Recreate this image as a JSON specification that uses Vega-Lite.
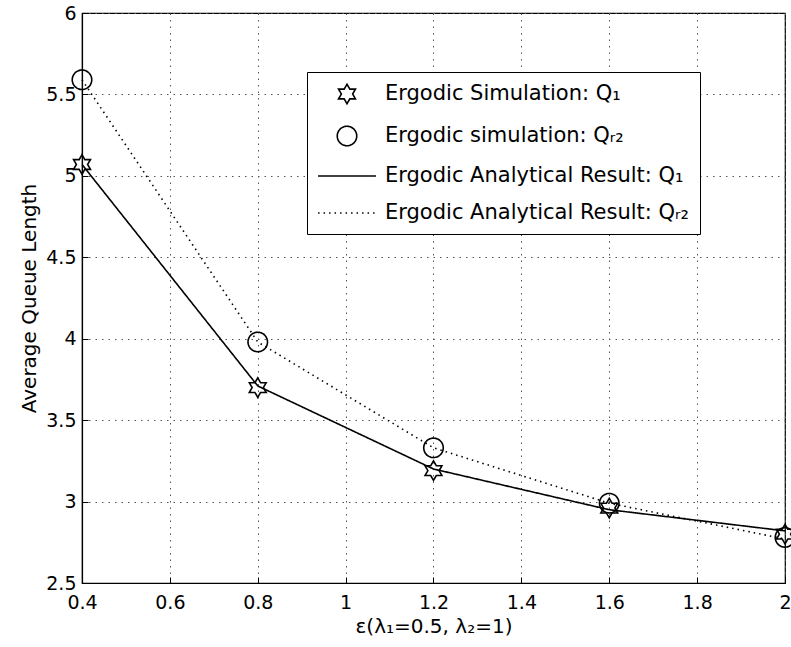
{
  "$schema": "https://vega.github.io/schema/vega-lite/v6.json",
  "width": 703,
  "height": 570,
  "autosize": {"type": "none"},
  "padding": {"left": 82, "top": 13, "right": 6, "bottom": 64},
  "background": "white",
  "config": {
    "font": "DejaVu Sans",
    "view": {"stroke": "black", "strokeWidth": 1.2},
    "axis": {
      "domainColor": "black",
      "domainWidth": 1.2,
      "tickColor": "black",
      "labelColor": "black",
      "titleColor": "black",
      "labelFont": "DejaVu Sans",
      "titleFont": "DejaVu Sans",
      "labelFontSize": 19,
      "titleFontSize": 20,
      "titleFontWeight": "normal",
      "gridColor": "#555",
      "gridDash": [1.5, 5],
      "gridWidth": 1
    },
    "legend": {
      "labelFont": "DejaVu Sans",
      "labelFontSize": 21,
      "labelColor": "black",
      "labelLimit": 0
    }
  },
  "data": {
    "values": [
      {"eps": 0.4, "q": 5.07, "series": "Ergodic Simulation: Q₁"},
      {"eps": 0.8, "q": 3.70, "series": "Ergodic Simulation: Q₁"},
      {"eps": 1.2, "q": 3.19, "series": "Ergodic Simulation: Q₁"},
      {"eps": 1.6, "q": 2.96, "series": "Ergodic Simulation: Q₁"},
      {"eps": 2.0, "q": 2.80, "series": "Ergodic Simulation: Q₁"},
      {"eps": 0.4, "q": 5.59, "series": " Ergodic simulation: Qᵣ₂"},
      {"eps": 0.8, "q": 3.98, "series": " Ergodic simulation: Qᵣ₂"},
      {"eps": 1.2, "q": 3.33, "series": " Ergodic simulation: Qᵣ₂"},
      {"eps": 1.6, "q": 2.99, "series": " Ergodic simulation: Qᵣ₂"},
      {"eps": 2.0, "q": 2.78, "series": " Ergodic simulation: Qᵣ₂"},
      {"eps": 0.4, "q": 5.07, "series": "Ergodic Analytical Result: Q₁"},
      {"eps": 0.8, "q": 3.71, "series": "Ergodic Analytical Result: Q₁"},
      {"eps": 1.2, "q": 3.20, "series": "Ergodic Analytical Result: Q₁"},
      {"eps": 1.6, "q": 2.95, "series": "Ergodic Analytical Result: Q₁"},
      {"eps": 2.0, "q": 2.82, "series": "Ergodic Analytical Result: Q₁"},
      {"eps": 0.4, "q": 5.59, "series": "Ergodic Analytical Result: Qᵣ₂"},
      {"eps": 0.8, "q": 3.98, "series": "Ergodic Analytical Result: Qᵣ₂"},
      {"eps": 1.2, "q": 3.33, "series": "Ergodic Analytical Result: Qᵣ₂"},
      {"eps": 1.6, "q": 2.99, "series": "Ergodic Analytical Result: Qᵣ₂"},
      {"eps": 2.0, "q": 2.77, "series": "Ergodic Analytical Result: Qᵣ₂"}
    ]
  },
  "encoding": {
    "x": {
      "field": "eps",
      "type": "quantitative",
      "scale": {"domain": [0.4, 2], "nice": false, "zero": false},
      "axis": {
        "title": "ε(λ₁=0.5, λ₂=1)",
        "values": [0.4, 0.6, 0.8, 1, 1.2, 1.4, 1.6, 1.8, 2],
        "format": "~g",
        "grid": true,
        "tickSize": -6,
        "labelPadding": 16,
        "labelFlush": false,
        "titlePadding": 4
      }
    },
    "y": {
      "field": "q",
      "type": "quantitative",
      "scale": {"domain": [2.5, 6], "nice": false, "zero": false},
      "axis": {
        "title": "Average Queue Length",
        "values": [2.5, 3, 3.5, 4, 4.5, 5, 5.5, 6],
        "format": "~g",
        "grid": true,
        "tickSize": -6,
        "labelPadding": 12,
        "labelFlush": false,
        "titlePadding": 6
      }
    }
  },
  "layer": [
    {
      "transform": [{"filter": "indexof(datum.series, 'Analytical') >= 0"}],
      "mark": {"type": "line", "color": "black", "strokeWidth": 1.6},
      "encoding": {
        "detail": {"field": "series"},
        "strokeDash": {
          "field": "series",
          "type": "nominal",
          "scale": {
            "domain": ["Ergodic Simulation: Q₁", " Ergodic simulation: Qᵣ₂", "Ergodic Analytical Result: Q₁", "Ergodic Analytical Result: Qᵣ₂"],
            "range": [[1, 0], [1, 0], [1, 0], [1.5, 4]]
          }
        }
      }
    },
    {
      "transform": [{"filter": "indexof(datum.series, 'imulation') >= 0"}],
      "mark": {"type": "point", "filled": false, "color": "black", "strokeWidth": 1.6, "opacity": 1, "size": 380},
      "encoding": {
        "shape": {
          "field": "series",
          "type": "nominal",
          "scale": {
            "domain": ["Ergodic Simulation: Q₁", " Ergodic simulation: Qᵣ₂", "Ergodic Analytical Result: Q₁", "Ergodic Analytical Result: Qᵣ₂"],
            "range": ["M0,-1L0.289,-0.5L0.866,-0.5L0.577,0L0.866,0.5L0.289,0.5L0,1L-0.289,0.5L-0.866,0.5L-0.577,0L-0.866,-0.5L-0.289,-0.5Z", "circle", "M-2.97,0L2.97,0", "M-2.97,0L2.97,0"]
          },
          "legend": {
            "title": null,
            "orient": "none",
            "legendX": 225,
            "legendY": 59,
            "columns": 1,
            "strokeColor": "black",
            "fillColor": "white",
            "padding": 11,
            "rowPadding": 16,
            "symbolOffset": 18,
            "labelOffset": 27,
            "symbolSize": 380,
            "symbolStrokeColor": "black",
            "symbolStrokeWidth": 1.6,
            "symbolFillColor": "transparent",
            "symbolOpacity": 1
          }
        },
        "strokeDash": {
          "field": "series",
          "type": "nominal"
        }
      }
    }
  ]
}
